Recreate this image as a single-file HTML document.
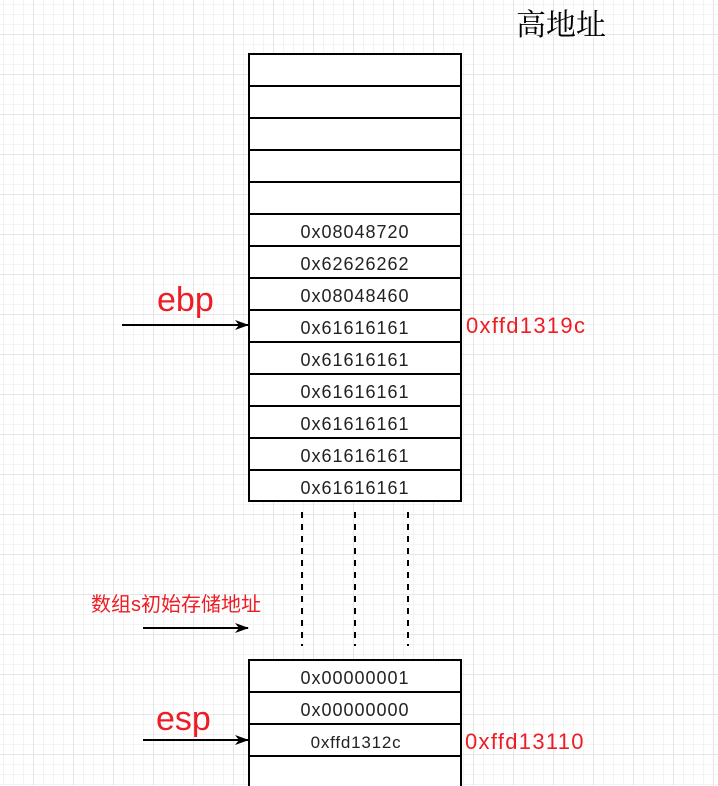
<!DOCTYPE html>
<html><head><meta charset="utf-8"><style>
html,body{margin:0;padding:0;background:#fff}
body{width:718px;height:786px;overflow:hidden;
background-image:linear-gradient(#e6e6e6 1px,transparent 1px),linear-gradient(90deg,#e6e6e6 1px,transparent 1px),linear-gradient(#f3f3f3 1px,transparent 1px),linear-gradient(90deg,#f3f3f3 1px,transparent 1px);
background-size:40px 40px,40px 40px,10px 10px,10px 10px;background-position:-7px -6px}
text{font-family:"Liberation Sans","Noto Sans CJK SC",sans-serif}
</style></head><body>
<svg width="718" height="786" xmlns="http://www.w3.org/2000/svg" style="position:absolute;left:0;top:0">
<defs><marker id="a" markerWidth="14" markerHeight="14" refX="13" refY="7" orient="auto" markerUnits="userSpaceOnUse"><path d="M0,2 L14,7 L0,12 L4,7 Z" fill="#000"/></marker></defs>
<text x="516" y="35" font-size="30" style="font-family:'Noto Serif CJK SC',serif">高地址</text>
<g fill="#fff" stroke="#000" stroke-width="2">
<rect x="249" y="54" width="212" height="32"/><rect x="249" y="86" width="212" height="32"/><rect x="249" y="118" width="212" height="32"/><rect x="249" y="150" width="212" height="32"/><rect x="249" y="182" width="212" height="32"/><rect x="249" y="214" width="212" height="32"/><rect x="249" y="246" width="212" height="32"/><rect x="249" y="278" width="212" height="32"/><rect x="249" y="310" width="212" height="32"/><rect x="249" y="342" width="212" height="32"/><rect x="249" y="374" width="212" height="32"/><rect x="249" y="406" width="212" height="32"/><rect x="249" y="438" width="212" height="32"/><rect x="249" y="470" width="212" height="31"/>
<rect x="249" y="660" width="212" height="32"/><rect x="249" y="692" width="212" height="32"/><rect x="249" y="724" width="212" height="32"/><rect x="249" y="756" width="212" height="40"/>
</g>
<g font-size="18" fill="#222" text-anchor="middle" letter-spacing="1">
<text x="355" y="238">0x08048720</text><text x="355" y="270">0x62626262</text><text x="355" y="302">0x08048460</text><text x="355" y="334">0x61616161</text><text x="355" y="366">0x61616161</text><text x="355" y="398">0x61616161</text><text x="355" y="430">0x61616161</text><text x="355" y="462">0x61616161</text><text x="355" y="494">0x61616161</text>
<text x="355" y="684">0x00000001</text><text x="355" y="716">0x00000000</text><text x="356" y="748" font-size="17" letter-spacing="0.8">0xffd1312c</text>
</g>
<g stroke="#000" stroke-width="2" stroke-dasharray="6,6">
<line x1="302" y1="512" x2="302" y2="646"/><line x1="355" y1="512" x2="355" y2="646"/><line x1="408" y1="512" x2="408" y2="646"/>
</g>
<g stroke="#000" stroke-width="2" marker-end="url(#a)">
<line x1="122" y1="325" x2="248" y2="325"/><line x1="143" y1="628" x2="248" y2="628"/><line x1="143" y1="740" x2="248" y2="740"/>
</g>
<g fill="#ee1c24">
<text x="157" y="311" font-size="34">ebp</text>
<text x="466" y="333" font-size="22" letter-spacing="1.3">0xffd1319c</text>
<text x="91" y="611" font-size="20">数组s初始存储地址</text>
<text x="156" y="730" font-size="34">esp</text>
<text x="465" y="749" font-size="22" letter-spacing="1.3">0xffd13110</text>
</g>
</svg>
</body></html>
